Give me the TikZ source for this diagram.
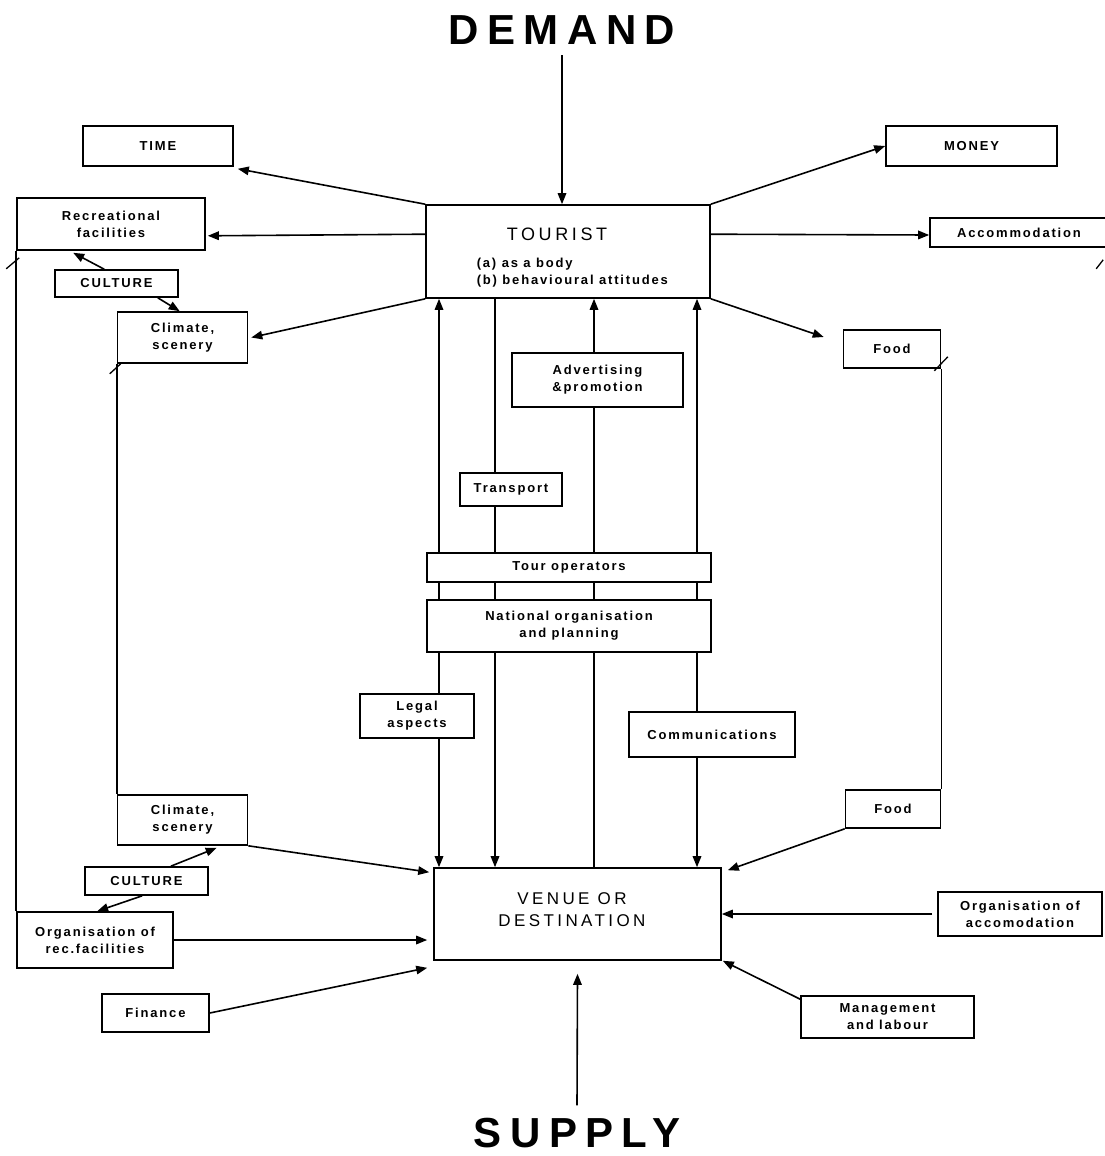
\documentclass[tikz,border=0pt]{standalone}
\usepackage{fontspec}
\setmainfont{Liberation Sans}
\newfontfamily\labfont[LetterSpace=14]{Liberation Sans}
\newfontfamily\headfont[LetterSpace=20]{Liberation Sans}
\newfontfamily\boxhead[LetterSpace=20]{Liberation Sans}
\usetikzlibrary{arrows.meta,calc}

\begin{document}
\begin{tikzpicture}[x=1pt,y=-1pt,
  line width=1.6pt,
  arr/.style={-{Triangle[length=11pt,width=8.5pt]}},
  dblarr/.style={{Triangle[length=11pt,width=8.5pt]}-{Triangle[length=11pt,width=8.5pt]}},
  box/.style={draw, fill=white, inner sep=0pt, align=center,
    font=\labfont\bfseries\fontsize{13}{17}\selectfont},
  lbl/.style={inner sep=0pt, align=center,
    font=\labfont\bfseries\fontsize{13}{17}\selectfont},
  tick/.style={line width=1.3pt},
  head/.style={inner sep=0pt, font=\headfont\bfseries\fontsize{42}{42}\selectfont},
]
\useasboundingbox[fill=white] (0,0) rectangle (1104,1156);

% --- the two poles ---
\node[head] (demand) at (562,30) {DEMAND};
\node[head] (supply) at (577,1133) {SUPPLY};

\node[draw, minimum width=284, minimum height=93] (tourist) at (568,251.5) {};
\node[inner sep=0pt, font=\boxhead\fontsize{18}{18}\selectfont] (tourist-title) at (557,234) {TOURIST};
\node[lbl, align=left, anchor=west] (tourist-roles) at (476,273) {(a) as a body\\(b) behavioural attitudes};

\node[draw, minimum width=287, minimum height=92] (venue) at (577.5,914) {};
\node[inner sep=0pt, align=center, font=\boxhead\fontsize{17}{22}\selectfont] (venue-title) at (572,910) {VENUE OR\\DESTINATION};

% --- parallel links between tourist and venue ---
\coordinate (c1) at (439,0);
\coordinate (c2) at (495,0);
\coordinate (c3) at (594,0);
\coordinate (c4) at (697,0);
\draw[dblarr] (tourist.south -| c1) -- (venue.north -| c1);
\draw[arr] (tourist.south -| c2) -- (venue.north -| c2);
\draw[arr] (venue.north -| c3) -- (tourist.south -| c3);
\draw[dblarr] (tourist.south -| c4) -- (venue.north -| c4);

% --- boxes sitting on the links ---
\node[box, minimum width=171, minimum height=54] (advert) at (597.5,380) {Advertising\\\&promotion};
\node[box, minimum width=102, minimum height=33] (transport) at (511,489.5) {Transport};
\node[box, minimum width=284, minimum height=29] (tourop) at (569,567.5) {Tour operators};
\node[box, minimum width=284, minimum height=52] (natorg) at (569,626) {National organisation\\and planning};
\node[box, minimum width=114, minimum height=44] (legal) at (417,716) {Legal\\aspects};
\node[box, minimum width=166, minimum height=45] (comms) at (712,734.5) {Communications};

% --- demand side boxes ---
\node[box, minimum width=150, minimum height=40] (time) at (158,146) {TIME};
\node[box, minimum width=171, minimum height=40] (money) at (971.5,146) {MONEY};
\node[box, minimum width=188, minimum height=52] (rec) at (111,224) {Recreational\\facilities};
\node[box, minimum width=178, minimum height=29] (accom) at (1019,232.5) {Accommodation};
\node[box, minimum width=123, minimum height=27] (culture1) at (116.5,283.5) {CULTURE};
\node[box, minimum width=130, minimum height=51] (climate1) at (182.5,337.5) {Climate,\\scenery};
\node[box, minimum width=97, minimum height=38] (food1) at (892,349) {Food};

% --- supply side boxes ---
\node[box, minimum width=130, minimum height=50] (climate2) at (182.5,820) {Climate,\\scenery};
\node[box, minimum width=123, minimum height=28] (culture2) at (146.5,881) {CULTURE};
\node[box, minimum width=156, minimum height=56] (orgrec) at (95,940) {Organisation of\\rec.facilities};
\node[box, minimum width=107, minimum height=38] (finance) at (155.5,1013) {Finance};
\node[box, minimum width=95, minimum height=38] (food2) at (893,809) {Food};
\node[box, minimum width=164, minimum height=44] (orgaccom) at (1020,914) {Organisation of\\accomodation};
\node[box, minimum width=173, minimum height=42] (mgmt) at (887.5,1017) {Management\\and labour};

% --- demand arrows ---
\draw[arr] ($(demand.south)+(0,10)$) -- (tourist.north -| demand.south);
\draw[arr] (tourist.north west) -- ($(time.south east)+(4,2)$);
\draw[arr] (tourist.north east) -- (money.west);
\draw[arr] ($(tourist.north west)+(0,30)$) -- ($(rec.south east)+(2,-15)$);
\draw[arr] ($(tourist.north east)+(0,30)$) -- ($(accom.west)+(0,2.5)$);
\draw[arr] (tourist.south west) -- ($(climate1.east)+(3,0)$);
\draw[arr] (tourist.south east) -- ($(food1.west)+(-19,-12)$);
\draw[arr] ($(culture1.north west)+(50,0)$) -- ($(rec.south west)+(57,2)$);
\draw[arr] ($(culture1.south east)+(-21,0)$) -- ($(climate1.north west)+(63,0)$);

% --- side links from demand boxes to supply boxes ---
\draw (rec.south west) -- (orgrec.north west);
\draw (climate1.south west) -- (climate2.north west);
\draw (food1.south east) -- (food2.north east);
\draw[tick] ($(rec.south west)+(-10,18)$) -- ($(rec.south west)+(3,7)$);
\draw[tick] ($(climate1.south west)+(-7,10)$) -- ($(climate1.south west)+(4,0)$);
\draw[tick] ($(food1.south east)+(-7,2)$) -- ($(food1.south east)+(6.5,-12)$);
\draw[tick] ($(accom.south west)+(167,21)$) -- ($(accom.south west)+(174,12)$);

% --- supply arrows ---
\draw[arr] ($(supply.north)+(0,-12)$) -- ($(venue.south)+(0,13)$);
\draw[arr] (climate2.south east) -- ($(venue.north west)+(-4,5)$);
\draw[arr] ($(culture2.north east)+(-38,0)$) -- ($(climate2.south west)+(100,2)$);
\draw[arr] ($(culture2.south west)+(58,0)$) -- ($(orgrec.north west)+(81,0)$);
\draw[arr] (orgrec.east) -- ($(venue.west |- orgrec.east)+(-6,0)$);
\draw[arr] (finance.east) -- ($(venue.south west)+(-6,7)$);
\draw[arr] (food2.south west) -- ($(venue.north east)+(6,3)$);
\draw[arr] ($(orgaccom.west)+(-5,0)$) -- (venue.east |- orgaccom.west);
\draw[arr] ($(mgmt.north west)+(0,4)$) -- ($(venue.south east)+(1,0)$);
\end{tikzpicture}
\end{document}
